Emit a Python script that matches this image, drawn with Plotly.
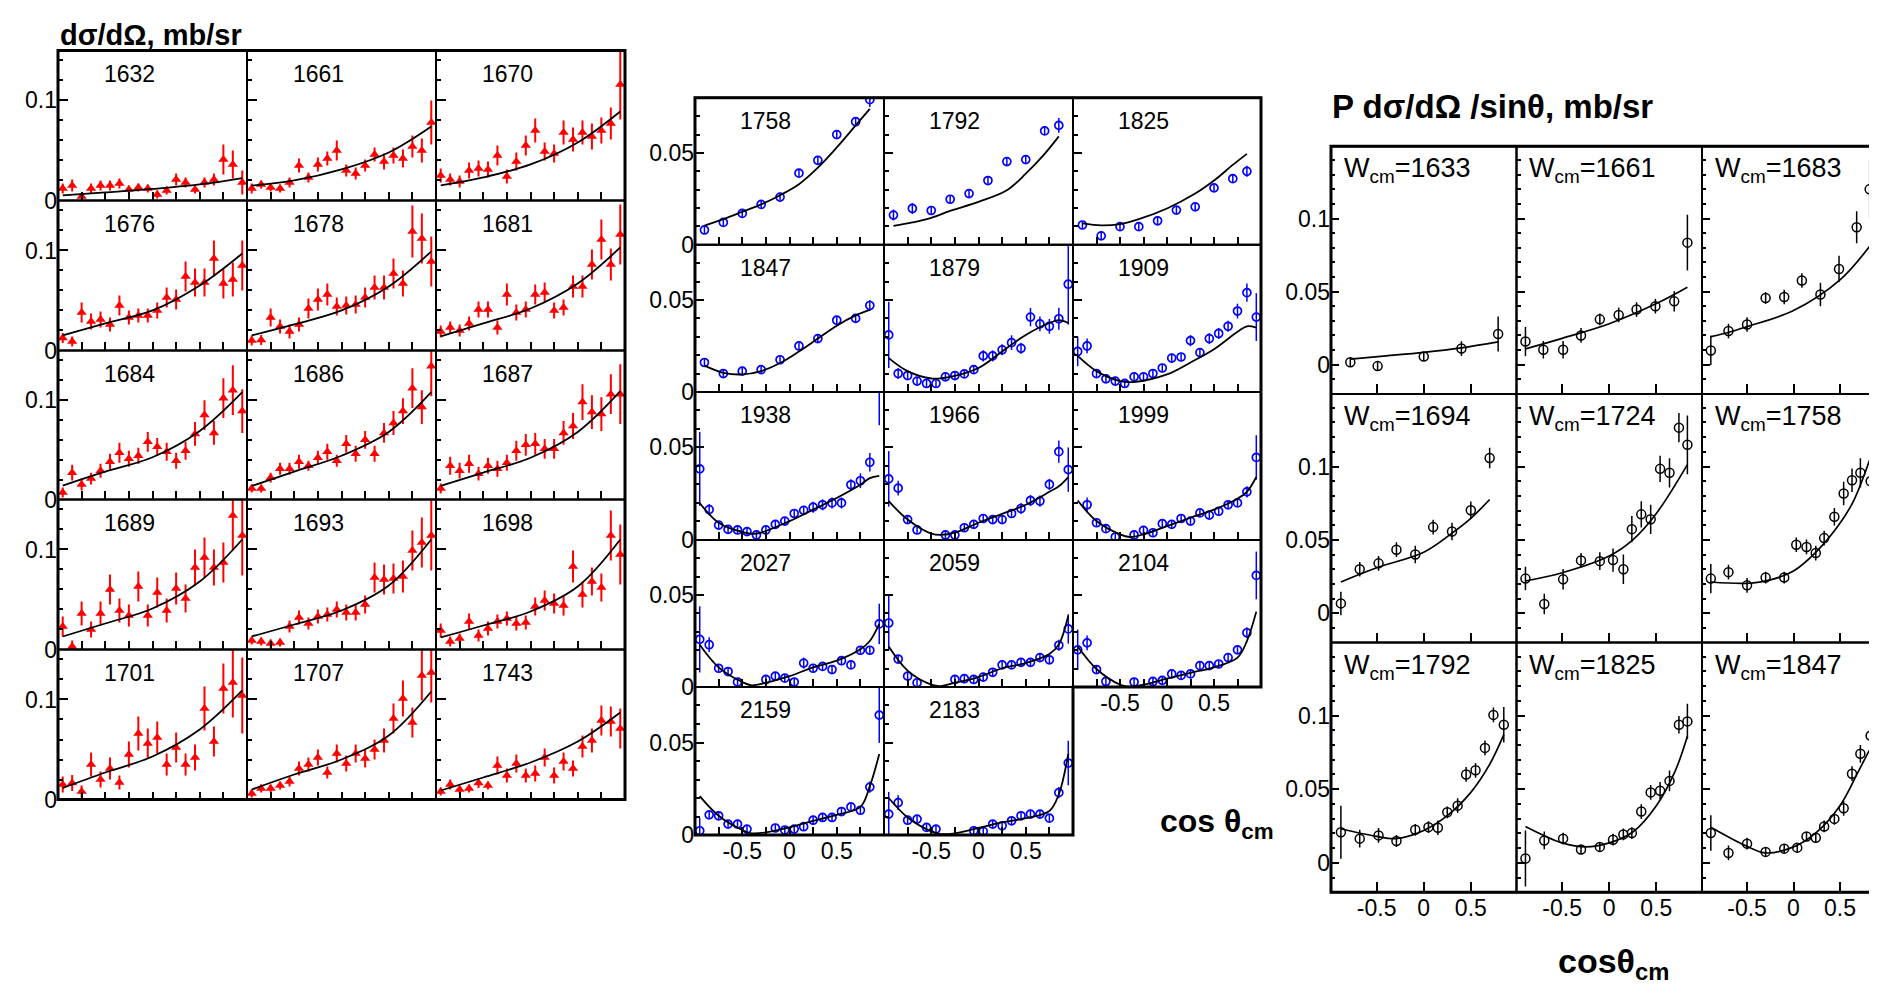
import plotly.graph_objects as go

W, H = 1877, 993
FONT = "Liberation Sans, Arial, sans-serif"

# ---------------- left group: dsigma/dOmega (red triangles) ----------------
X_L = [-0.95, -0.85, -0.75, -0.65, -0.55, -0.45, -0.35, -0.25, -0.15, -0.05,
       0.05, 0.15, 0.25, 0.35, 0.45, 0.55, 0.65, 0.75, 0.85, 0.95]
CX_L = [-0.95, -0.5, 0.0, 0.5, 0.95]

L1632_Y = [0.012, 0.015, 0.004, 0.012, 0.015, 0.015, 0.017, 0.011, 0.013, 0.012, 0.006, 0.010, 0.021, 0.018, 0.011, 0.018, 0.021, 0.041, 0.036, 0.018]
L1632_E = [0.005, 0.006, 0.003, 0.005, 0.005, 0.005, 0.005, 0.004, 0.004, 0.004, 0.004, 0.004, 0.006, 0.005, 0.004, 0.005, 0.006, 0.015, 0.014, 0.012]
L1632_C = [0.005, 0.008, 0.0115, 0.016, 0.0224]

L1661_Y = [0.012, 0.016, 0.013, 0.012, 0.018, 0.035, 0.023, 0.036, 0.042, 0.050, 0.030, 0.027, 0.035, 0.046, 0.039, 0.045, 0.042, 0.054, 0.050, 0.078]
L1661_E = [0.005, 0.004, 0.004, 0.004, 0.005, 0.007, 0.005, 0.007, 0.007, 0.010, 0.006, 0.006, 0.006, 0.007, 0.008, 0.008, 0.009, 0.011, 0.012, 0.022]
L1661_C = [0.0149, 0.020, 0.031, 0.048, 0.074]

L1670_Y = [0.025, 0.021, 0.019, 0.030, 0.032, 0.031, 0.045, 0.024, 0.039, 0.055, 0.070, 0.049, 0.047, 0.068, 0.061, 0.068, 0.064, 0.070, 0.077, 0.116]
L1670_E = [0.007, 0.006, 0.006, 0.008, 0.008, 0.008, 0.010, 0.007, 0.009, 0.010, 0.012, 0.009, 0.009, 0.012, 0.012, 0.012, 0.013, 0.013, 0.016, 0.035]
L1670_C = [0.015, 0.023, 0.036, 0.058, 0.089]

L1676_Y = [0.0125, 0.009, 0.038, 0.029, 0.031, 0.026, 0.045, 0.033, 0.035, 0.035, 0.040, 0.053, 0.051, 0.074, 0.068, 0.068, 0.092, 0.067, 0.071, 0.085]
L1676_E = [0.005, 0.005, 0.010, 0.008, 0.008, 0.007, 0.010, 0.007, 0.007, 0.007, 0.008, 0.010, 0.010, 0.015, 0.014, 0.014, 0.018, 0.015, 0.017, 0.025]
L1676_C = [0.015, 0.027, 0.040, 0.065, 0.097]

L1678_Y = [0.010, 0.0105, 0.033, 0.024, 0.019, 0.026, 0.042, 0.051, 0.056, 0.044, 0.045, 0.046, 0.053, 0.063, 0.063, 0.077, 0.067, 0.119, 0.112, 0.089]
L1678_E = [0.005, 0.005, 0.009, 0.007, 0.007, 0.007, 0.010, 0.011, 0.011, 0.009, 0.009, 0.009, 0.010, 0.012, 0.012, 0.015, 0.013, 0.026, 0.025, 0.025]
L1678_C = [0.015, 0.026, 0.040, 0.064, 0.099]

L1681_Y = [0.019, 0.023, 0.020, 0.027, 0.041, 0.041, 0.023, 0.056, 0.038, 0.041, 0.056, 0.058, 0.040, 0.043, 0.064, 0.064, 0.086, 0.111, 0.086, 0.116]
L1681_E = [0.006, 0.006, 0.006, 0.007, 0.008, 0.008, 0.007, 0.011, 0.008, 0.008, 0.010, 0.010, 0.008, 0.008, 0.011, 0.011, 0.015, 0.020, 0.016, 0.030]
L1681_C = [0.014, 0.027, 0.042, 0.067, 0.103]

L1684_Y = [0.007, 0.027, 0.015, 0.021, 0.029, 0.038, 0.047, 0.041, 0.044, 0.058, 0.053, 0.048, 0.039, 0.049, 0.066, 0.085, 0.067, 0.102, 0.110, 0.089]
L1684_E = [0.005, 0.008, 0.006, 0.006, 0.007, 0.008, 0.010, 0.008, 0.008, 0.010, 0.009, 0.009, 0.008, 0.009, 0.012, 0.015, 0.012, 0.020, 0.025, 0.022]
L1684_C = [0.014, 0.028, 0.0425, 0.069, 0.108]

L1686_Y = [0.011, 0.011, 0.022, 0.031, 0.031, 0.038, 0.034, 0.042, 0.048, 0.039, 0.056, 0.046, 0.060, 0.046, 0.067, 0.077, 0.089, 0.112, 0.093, 0.134]
L1686_E = [0.004, 0.004, 0.005, 0.006, 0.006, 0.007, 0.005, 0.007, 0.008, 0.006, 0.009, 0.008, 0.009, 0.008, 0.010, 0.012, 0.013, 0.020, 0.017, 0.030]
L1686_C = [0.0136, 0.028, 0.044, 0.068, 0.108]

L1687_Y = [0.011, 0.034, 0.029, 0.036, 0.026, 0.034, 0.031, 0.037, 0.049, 0.055, 0.056, 0.051, 0.051, 0.067, 0.074, 0.098, 0.088, 0.086, 0.106, 0.106]
L1687_E = [0.005, 0.009, 0.008, 0.009, 0.007, 0.008, 0.008, 0.008, 0.010, 0.011, 0.011, 0.010, 0.010, 0.012, 0.013, 0.018, 0.017, 0.017, 0.020, 0.030]
L1687_C = [0.0136, 0.027, 0.042, 0.068, 0.109]

L1689_Y = [0.023, 0.003, 0.036, 0.020, 0.036, 0.060, 0.039, 0.034, 0.063, 0.034, 0.057, 0.039, 0.061, 0.051, 0.082, 0.092, 0.082, 0.087, 0.134, 0.114]
L1689_E = [0.010, 0.006, 0.012, 0.008, 0.012, 0.015, 0.012, 0.011, 0.015, 0.011, 0.015, 0.012, 0.016, 0.014, 0.018, 0.020, 0.018, 0.020, 0.035, 0.040]
L1689_C = [0.013, 0.026, 0.041, 0.068, 0.110]

L1693_Y = [0.009, 0.008, 0.006, 0.007, 0.023, 0.032, 0.026, 0.033, 0.035, 0.040, 0.037, 0.037, 0.045, 0.072, 0.070, 0.071, 0.073, 0.099, 0.107, 0.114]
L1693_E = [0.004, 0.004, 0.004, 0.004, 0.006, 0.007, 0.006, 0.007, 0.007, 0.008, 0.008, 0.008, 0.009, 0.015, 0.015, 0.015, 0.016, 0.020, 0.025, 0.035]
L1693_C = [0.013, 0.025, 0.039, 0.064, 0.110]

L1698_Y = [0.019, 0.008, 0.011, 0.028, 0.014, 0.021, 0.028, 0.031, 0.026, 0.027, 0.043, 0.049, 0.046, 0.044, 0.083, 0.055, 0.068, 0.062, 0.114, 0.095]
L1698_E = [0.007, 0.005, 0.005, 0.008, 0.006, 0.007, 0.007, 0.007, 0.007, 0.007, 0.009, 0.010, 0.010, 0.010, 0.016, 0.013, 0.014, 0.014, 0.025, 0.030]
L1698_C = [0.012, 0.024, 0.038, 0.063, 0.110]

L1701_Y = [0.015, 0.0165, 0.008, 0.035, 0.020, 0.031, 0.017, 0.045, 0.066, 0.056, 0.062, 0.035, 0.052, 0.035, 0.042, 0.091, 0.058, 0.111, 0.117, 0.104]
L1701_E = [0.008, 0.008, 0.006, 0.012, 0.008, 0.011, 0.007, 0.013, 0.017, 0.015, 0.016, 0.011, 0.015, 0.011, 0.013, 0.022, 0.015, 0.025, 0.035, 0.038]
L1701_C = [0.0115, 0.027, 0.043, 0.070, 0.109]

L1707_Y = [0.006, 0.011, 0.011, 0.014, 0.018, 0.031, 0.035, 0.042, 0.027, 0.046, 0.036, 0.046, 0.041, 0.050, 0.059, 0.081, 0.101, 0.077, 0.124, 0.127]
L1707_E = [0.004, 0.004, 0.004, 0.004, 0.005, 0.007, 0.007, 0.008, 0.006, 0.009, 0.008, 0.009, 0.009, 0.010, 0.012, 0.015, 0.018, 0.015, 0.025, 0.030]
L1707_C = [0.010, 0.025, 0.040, 0.064, 0.108]

L1743_Y = [0.008, 0.015, 0.010, 0.011, 0.0165, 0.014, 0.034, 0.024, 0.036, 0.024, 0.026, 0.042, 0.024, 0.038, 0.031, 0.053, 0.059, 0.079, 0.078, 0.071]
L1743_E = [0.004, 0.005, 0.004, 0.004, 0.005, 0.004, 0.009, 0.007, 0.009, 0.007, 0.008, 0.009, 0.008, 0.009, 0.008, 0.011, 0.012, 0.015, 0.015, 0.020]
L1743_C = [0.009, 0.022, 0.037, 0.058, 0.087]

LEFT = [("1632", L1632_Y, L1632_E, L1632_C), ("1661", L1661_Y, L1661_E, L1661_C), ("1670", L1670_Y, L1670_E, L1670_C),
        ("1676", L1676_Y, L1676_E, L1676_C), ("1678", L1678_Y, L1678_E, L1678_C), ("1681", L1681_Y, L1681_E, L1681_C),
        ("1684", L1684_Y, L1684_E, L1684_C), ("1686", L1686_Y, L1686_E, L1686_C), ("1687", L1687_Y, L1687_E, L1687_C),
        ("1689", L1689_Y, L1689_E, L1689_C), ("1693", L1693_Y, L1693_E, L1693_C), ("1698", L1698_Y, L1698_E, L1698_C),
        ("1701", L1701_Y, L1701_E, L1701_C), ("1707", L1707_Y, L1707_E, L1707_C), ("1743", L1743_Y, L1743_E, L1743_C)]

# ---------------- middle group (blue open circles) ----------------
X_M10 = [-0.9, -0.7, -0.5, -0.3, -0.1, 0.1, 0.3, 0.5, 0.7, 0.85]
X_M20 = X_L
CX_M9 = [-0.9, -0.7, -0.5, -0.3, 0.0, 0.3, 0.5, 0.7, 0.85]
CX_MA = [-0.95, -0.75, -0.5, -0.3, 0.0, 0.25, 0.5, 0.75, 0.85, 0.95]
CX_MB = [-0.95, -0.75, -0.5, -0.35, 0.0, 0.25, 0.5, 0.75, 0.85, 0.95]
CX_MC = [-0.95, -0.75, -0.5, -0.4, -0.25, 0.0, 0.25, 0.5, 0.75, 0.85, 0.95]

M1758_Y = [0.0081, 0.0122, 0.0171, 0.022, 0.026, 0.039, 0.046, 0.060, 0.067, 0.079]
M1758_E = [0.002, 0.002, 0.002, 0.002, 0.002, 0.002, 0.002, 0.002, 0.002, 0.004]
M1758_C = [0.0105, 0.014, 0.018, 0.022, 0.027, 0.033, 0.042, 0.053, 0.065, 0.074]

M1792_Y = [0.0162, 0.0198, 0.0187, 0.0248, 0.0279, 0.035, 0.0453, 0.0464, 0.062, 0.065]
M1792_E = [0.003, 0.003, 0.002, 0.002, 0.002, 0.002, 0.002, 0.002, 0.002, 0.004]
M1792_C = [0.0103, 0.0122, 0.0147, 0.0185, 0.0234, 0.0297, 0.0387, 0.0495, 0.059]

M1825_Y = [0.0108, 0.0049, 0.0099, 0.0099, 0.0131, 0.0189, 0.0207, 0.031, 0.036, 0.040]
M1825_E = [0.002, 0.002, 0.002, 0.002, 0.002, 0.002, 0.002, 0.002, 0.002, 0.003]
M1825_C = [0.0117, 0.0106, 0.0113, 0.014, 0.0198, 0.0279, 0.035, 0.0435, 0.0495]

M1847_Y = [0.016, 0.010, 0.0113, 0.0121, 0.0175, 0.025, 0.029, 0.039, 0.040, 0.047]
M1847_E = [0.002, 0.002, 0.002, 0.002, 0.002, 0.002, 0.002, 0.002, 0.002, 0.003]
M1847_C = [0.0143, 0.0104, 0.0095, 0.0113, 0.0157, 0.022, 0.029, 0.036, 0.0416, 0.0446]

M1879_Y = [0.031, 0.010, 0.0089, 0.0059, 0.0046, 0.0046, 0.0082, 0.0089, 0.0098, 0.0121, 0.0196, 0.0196, 0.0229, 0.0268, 0.0237, 0.0407, 0.037, 0.0357, 0.0398, 0.0586]
M1879_E = [0.018, 0.003, 0.002, 0.002, 0.002, 0.002, 0.002, 0.002, 0.002, 0.002, 0.003, 0.003, 0.003, 0.004, 0.003, 0.005, 0.004, 0.004, 0.006, 0.022]
M1879_C = [0.0184, 0.0113, 0.0073, 0.0082, 0.013, 0.022, 0.031, 0.0375, 0.039, 0.0375]

M1909_Y = [0.022, 0.025, 0.010, 0.0071, 0.0059, 0.0046, 0.0082, 0.0082, 0.010, 0.013, 0.0184, 0.019, 0.0279, 0.0214, 0.029, 0.0318, 0.0357, 0.044, 0.054, 0.0407]
M1909_E = [0.008, 0.004, 0.002, 0.002, 0.002, 0.002, 0.002, 0.002, 0.002, 0.002, 0.002, 0.002, 0.003, 0.002, 0.003, 0.003, 0.003, 0.004, 0.005, 0.013]
M1909_C = [0.0196, 0.0113, 0.0059, 0.0054, 0.0095, 0.016, 0.0232, 0.0327, 0.0357, 0.035]

M1938_Y = [0.0384, 0.0164, 0.008, 0.0057, 0.0054, 0.0045, 0.0027, 0.0054, 0.0084, 0.0102, 0.0143, 0.016, 0.0177, 0.019, 0.020, 0.020, 0.0298, 0.032, 0.042, 0.090]
M1938_E = [0.020, 0.003, 0.002, 0.002, 0.002, 0.002, 0.002, 0.002, 0.002, 0.002, 0.002, 0.002, 0.003, 0.003, 0.003, 0.003, 0.003, 0.004, 0.005, 0.028]
M1938_C = [0.020, 0.0093, 0.0043, 0.0034, 0.0102, 0.0164, 0.0227, 0.0298, 0.0334, 0.0346]

M1966_Y = [0.033, 0.028, 0.011, 0.0054, None, None, 0.0027, 0.0027, 0.0066, 0.0084, 0.0116, 0.011, 0.011, 0.0143, 0.017, 0.0213, 0.021, 0.030, 0.0477, 0.038]
M1966_E = [0.015, 0.004, 0.002, 0.002, 0.0, 0.0, 0.002, 0.002, 0.002, 0.002, 0.002, 0.002, 0.002, 0.002, 0.003, 0.003, 0.003, 0.003, 0.006, 0.012]
M1966_C = [0.021, 0.011, 0.0034, 0.0027, 0.0039, 0.0093, 0.0141, 0.019, 0.026, 0.029, 0.034]

M1999_Y = [None, 0.019, 0.0093, 0.0061, 0.0016, None, 0.0027, 0.0052, 0.0039, 0.0088, 0.0084, 0.0116, 0.0102, 0.0146, 0.0134, 0.0155, 0.019, 0.020, 0.026, 0.0446]
M1999_E = [0.0, 0.004, 0.002, 0.002, 0.002, 0.0, 0.002, 0.002, 0.002, 0.002, 0.002, 0.002, 0.002, 0.002, 0.002, 0.002, 0.002, 0.002, 0.003, 0.012]
M1999_C = [0.0213, 0.0102, 0.003, 0.0016, 0.003, 0.0075, 0.012, 0.0164, 0.0223, 0.026, 0.034]

M2027_Y = [0.0259, 0.023, 0.0102, 0.0084, 0.0027, None, None, 0.0041, 0.0059, 0.0048, 0.0027, 0.013, 0.0102, 0.0112, 0.0095, 0.0143, 0.012, 0.020, 0.020, 0.0343]
M2027_E = [0.018, 0.004, 0.002, 0.002, 0.002, 0.0, 0.0, 0.002, 0.002, 0.002, 0.002, 0.003, 0.002, 0.002, 0.002, 0.002, 0.002, 0.002, 0.002, 0.011]
M2027_C = [0.023, 0.0107, 0.0027, 0.0009, 0.0023, 0.0059, 0.0107, 0.0143, 0.0205, 0.025, 0.0343]

M2059_Y = [0.0348, 0.0152, 0.0059, 0.0023, None, None, None, 0.0041, 0.0045, 0.0041, 0.0054, 0.008, 0.012, 0.012, 0.0134, 0.0134, 0.016, 0.0148, 0.0227, 0.0316]
M2059_E = [0.015, 0.002, 0.002, 0.002, 0.0, 0.0, 0.0, 0.002, 0.002, 0.002, 0.002, 0.002, 0.002, 0.002, 0.002, 0.002, 0.002, 0.002, 0.003, 0.008]
M2059_C = [0.022, 0.0089, 0.0013, 0.0005, 0.0023, 0.0054, 0.0102, 0.013, 0.0179, 0.0232, 0.0388]

M2104_Y = [0.0202, 0.024, 0.0095, 0.003, None, None, 0.0027, None, 0.003, 0.0036, 0.0071, 0.0063, 0.0071, 0.0116, 0.0116, 0.0125, 0.016, 0.0202, 0.0295, 0.0607]
M2104_E = [0.011, 0.004, 0.002, 0.002, 0.0, 0.0, 0.002, 0.0, 0.002, 0.002, 0.002, 0.002, 0.002, 0.002, 0.002, 0.002, 0.002, 0.002, 0.003, 0.013]
M2104_C = [0.022, 0.0098, 0.0013, 0.0002, 0.0013, 0.0045, 0.0077, 0.0107, 0.016, 0.025, 0.041]

M2159_Y = [0.0023, 0.0109, 0.0104, 0.0059, 0.0059, 0.0032, None, None, 0.0038, 0.0027, 0.0032, 0.0045, 0.008, 0.0095, 0.0095, 0.0127, 0.0152, 0.0134, 0.0259, 0.0648]
M2159_E = [0.007, 0.002, 0.002, 0.002, 0.002, 0.002, 0.0, 0.0, 0.002, 0.002, 0.002, 0.002, 0.002, 0.002, 0.002, 0.002, 0.002, 0.002, 0.003, 0.015]
M2159_C = [0.021, 0.0104, 0.0027, 0.0009, 0.0014, 0.0041, 0.0077, 0.0109, 0.0152, 0.0264, 0.0438]

M2183_Y = [0.0113, 0.0175, 0.008, 0.0086, 0.0041, 0.0032, None, None, None, 0.0023, 0.002, 0.0059, 0.005, 0.0077, 0.0104, 0.0113, 0.0113, 0.0091, 0.0229, 0.0389]
M2183_E = [0.012, 0.004, 0.002, 0.002, 0.002, 0.002, 0.0, 0.0, 0.0, 0.002, 0.002, 0.002, 0.002, 0.002, 0.002, 0.002, 0.002, 0.002, 0.003, 0.012]
M2183_C = [0.020, 0.0095, 0.002, 0.0005, 0.0009, 0.0038, 0.0068, 0.0091, 0.013, 0.022, 0.0438]

MIDDLE = [("1758", X_M10, M1758_Y, M1758_E, X_M10, M1758_C), ("1792", X_M10, M1792_Y, M1792_E, CX_M9, M1792_C),
          ("1825", X_M10, M1825_Y, M1825_E, CX_M9, M1825_C), ("1847", X_M10, M1847_Y, M1847_E, X_M10, M1847_C),
          ("1879", X_M20, M1879_Y, M1879_E, CX_MA, M1879_C), ("1909", X_M20, M1909_Y, M1909_E, CX_MB, M1909_C),
          ("1938", X_M20, M1938_Y, M1938_E, CX_MB, M1938_C), ("1966", X_M20, M1966_Y, M1966_E, CX_MC, M1966_C),
          ("1999", X_M20, M1999_Y, M1999_E, CX_MC, M1999_C), ("2027", X_M20, M2027_Y, M2027_E, CX_MC, M2027_C),
          ("2059", X_M20, M2059_Y, M2059_E, CX_MC, M2059_C), ("2104", X_M20, M2104_Y, M2104_E, CX_MC, M2104_C),
          ("2159", X_M20, M2159_Y, M2159_E, CX_MC, M2159_C), ("2183", X_M20, M2183_Y, M2183_E, CX_MC, M2183_C)]

# ---------------- right group: P dsigma/dOmega / sin(theta) ----------------
P1633_X = [-0.78, -0.49, 0.0, 0.40, 0.79]
P1633_Y = [0.0016, -0.001, 0.0056, 0.011, 0.021]
P1633_E = [0.003, 0.003, 0.003, 0.005, 0.012]
P1633_CX = [-0.78, -0.4, 0.0, 0.4, 0.79]
P1633_CY = [0.0038, 0.006, 0.0084, 0.0115, 0.0156]

P1661_X = [-0.89, -0.70, -0.49, -0.30, -0.10, 0.10, 0.29, 0.49, 0.69, 0.83]
P1661_Y = [0.0158, 0.0102, 0.0102, 0.020, 0.031, 0.034, 0.0377, 0.040, 0.0433, 0.0835]
P1661_E = [0.010, 0.006, 0.006, 0.005, 0.004, 0.005, 0.005, 0.005, 0.007, 0.019]
P1661_CX = [-0.89, -0.5, 0.0, 0.5, 0.83]
P1661_CY = [0.0108, 0.018, 0.028, 0.0418, 0.053]

P1683_X = [-0.89, -0.70, -0.50, -0.30, -0.10, 0.09, 0.29, 0.49, 0.68, 0.82]
P1683_Y = [0.0097, 0.023, 0.0275, 0.0456, 0.0463, 0.0576, 0.048, 0.0655, 0.094, 0.120]
P1683_E = [0.010, 0.005, 0.005, 0.004, 0.005, 0.005, 0.008, 0.009, 0.011, 0.020]
P1683_CX = [-0.89, -0.7, -0.5, 0.0, 0.5, 0.82]
P1683_CY = [0.0192, 0.022, 0.026, 0.037, 0.058, 0.081]

P1694_X = [-0.88, -0.68, -0.48, -0.29, -0.09, 0.10, 0.30, 0.50, 0.70]
P1694_Y = [0.0067, 0.030, 0.034, 0.0433, 0.040, 0.0587, 0.0557, 0.0702, 0.1058]
P1694_E = [0.008, 0.005, 0.005, 0.005, 0.006, 0.005, 0.006, 0.006, 0.007]
P1694_CX = [-0.88, -0.5, 0.0, 0.3, 0.5, 0.7]
P1694_CY = [0.0213, 0.031, 0.0416, 0.0546, 0.0647, 0.0775]

P1724_X = [-0.89, -0.69, -0.49, -0.30, -0.10, 0.04, 0.15, 0.24, 0.34, 0.44, 0.54, 0.64, 0.74, 0.83]
P1724_Y = [0.0236, 0.0063, 0.0231, 0.036, 0.0355, 0.0362, 0.030, 0.0573, 0.0674, 0.064, 0.0984, 0.0957, 0.1265, 0.1148]
P1724_E = [0.008, 0.007, 0.007, 0.005, 0.006, 0.008, 0.010, 0.009, 0.009, 0.010, 0.009, 0.010, 0.010, 0.020]
P1724_CX = [-0.89, -0.5, 0.0, 0.25, 0.5, 0.83]
P1724_CY = [0.022, 0.0276, 0.039, 0.050, 0.068, 0.1013]

P1758_X = [-0.89, -0.70, -0.50, -0.30, -0.10, 0.03, 0.14, 0.24, 0.33, 0.44, 0.54, 0.63, 0.72, 0.83]
P1758_Y = [0.0236, 0.028, 0.019, 0.0243, 0.0243, 0.0467, 0.0452, 0.041, 0.0512, 0.0658, 0.0816, 0.0906, 0.0957, 0.090]
P1758_E = [0.010, 0.005, 0.005, 0.004, 0.004, 0.005, 0.005, 0.005, 0.005, 0.006, 0.008, 0.008, 0.010, 0.012]
P1758_CX = [-0.89, -0.5, -0.25, 0.0, 0.25, 0.5, 0.65, 0.83]
P1758_CY = [0.0213, 0.0204, 0.0227, 0.0288, 0.0422, 0.0613, 0.077, 0.1063]

P1792_X = [-0.88, -0.68, -0.48, -0.29, -0.09, 0.05, 0.15, 0.25, 0.36, 0.45, 0.55, 0.65, 0.74, 0.85]
P1792_Y = [0.0208, 0.0164, 0.0186, 0.0148, 0.0224, 0.0242, 0.0238, 0.0343, 0.0388, 0.060, 0.0628, 0.078, 0.1004, 0.0937]
P1792_E = [0.018, 0.006, 0.005, 0.004, 0.004, 0.004, 0.005, 0.004, 0.005, 0.005, 0.005, 0.005, 0.005, 0.012]
P1792_CX = [-0.88, -0.5, -0.3, 0.0, 0.25, 0.5, 0.7, 0.85]
P1792_CY = [0.0231, 0.0179, 0.0164, 0.022, 0.032, 0.0478, 0.0668, 0.087]

P1825_X = [-0.89, -0.69, -0.49, -0.30, -0.10, 0.04, 0.15, 0.24, 0.34, 0.44, 0.54, 0.64, 0.74, 0.83]
P1825_Y = [0.0029, 0.0152, 0.0164, 0.009, 0.0108, 0.0157, 0.0193, 0.0202, 0.0348, 0.0478, 0.0489, 0.0556, 0.0937, 0.096]
P1825_E = [0.019, 0.006, 0.004, 0.003, 0.003, 0.004, 0.004, 0.004, 0.005, 0.005, 0.006, 0.007, 0.006, 0.012]
P1825_CX = [-0.89, -0.5, -0.25, 0.0, 0.25, 0.5, 0.7, 0.83]
P1825_CY = [0.0247, 0.0135, 0.0108, 0.0135, 0.0209, 0.0388, 0.0623, 0.0859]

P1847_X = [-0.89, -0.70, -0.50, -0.30, -0.10, 0.04, 0.14, 0.24, 0.33, 0.44, 0.54, 0.63, 0.72, 0.83]
P1847_Y = [0.0202, 0.0067, 0.013, 0.0074, 0.0096, 0.0103, 0.0179, 0.017, 0.0247, 0.0298, 0.037, 0.0605, 0.074, 0.0863]
P1847_E = [0.012, 0.005, 0.004, 0.003, 0.003, 0.003, 0.003, 0.003, 0.004, 0.004, 0.005, 0.005, 0.006, 0.008]
P1847_CX = [-0.89, -0.5, -0.3, 0.0, 0.25, 0.5, 0.7, 0.83]
P1847_CY = [0.0242, 0.0112, 0.0067, 0.0108, 0.0209, 0.0388, 0.0623, 0.078]

RIGHT = [("1633", P1633_X, P1633_Y, P1633_E, P1633_CX, P1633_CY), ("1661", P1661_X, P1661_Y, P1661_E, P1661_CX, P1661_CY),
         ("1683", P1683_X, P1683_Y, P1683_E, P1683_CX, P1683_CY), ("1694", P1694_X, P1694_Y, P1694_E, P1694_CX, P1694_CY),
         ("1724", P1724_X, P1724_Y, P1724_E, P1724_CX, P1724_CY), ("1758", P1758_X, P1758_Y, P1758_E, P1758_CX, P1758_CY),
         ("1792", P1792_X, P1792_Y, P1792_E, P1792_CX, P1792_CY), ("1825", P1825_X, P1825_Y, P1825_E, P1825_CX, P1825_CY),
         ("1847", P1847_X, P1847_Y, P1847_E, P1847_CX, P1847_CY)]

# tick positions / labels
XT_MAJOR = [-0.5, 0.0, 0.5]
XT_MAJOR_TXT = ["-0.5", "0", "0.5"]
XT_MINOR = [-0.75, -0.25, 0.25, 0.75]

# ---------------- geometry (pixels) ----------------
L_COLS = [50, 239, 428, 617]
L_ROWS = [43, 195, 347, 498, 650, 802]
M_COLS = [687, 876, 1065, 1253]
M_ROWS = [91, 240, 389, 539, 688, 838]
R_COLS = [1323, 1508.5, 1694, 1877]
R_ROWS = [140, 391, 643, 896]


def px(x):
    return x / W


def py(y):
    return 1 - y / H


fig = go.Figure()
lay = dict(width=W, height=H, margin=dict(l=0, r=0, t=0, b=0), paper_bgcolor="white",
           plot_bgcolor="white", showlegend=False)
ann = []
shp = []
counter = [0]


def new_axes(c0, c1, r0, r1, xr, yr, xminor, xlen, ydt, ylen, ymin, ymlen, show_x, show_y, fs):
    counter[0] += 1
    k = counter[0]
    xa = "xaxis" if k == 1 else "xaxis%d" % k
    ya = "yaxis" if k == 1 else "yaxis%d" % k
    xref = "x" if k == 1 else "x%d" % k
    yref = "y" if k == 1 else "y%d" % k
    tf = dict(family=FONT, size=fs, color="black")
    xd = dict(domain=[px(c0), px(c1)], range=xr, anchor=yref, showgrid=False, zeroline=False,
              showline=False, ticks="inside", ticklen=xlen, tickwidth=1.5, tickcolor="black",
              tickmode="array", tickvals=XT_MAJOR, ticktext=XT_MAJOR_TXT, showticklabels=show_x,
              tickfont=tf, fixedrange=True)
    if xminor:
        xd["minor"] = dict(tickmode="array", tickvals=XT_MINOR, ticks="inside", ticklen=xlen,
                           tickwidth=1.5, tickcolor="black")
    lay[xa] = xd
    lay[ya] = dict(domain=[py(r1), py(r0)], range=yr, anchor=xref, showgrid=False, zeroline=False,
                   showline=False, ticks="inside", ticklen=ylen, tickwidth=1.5, tickcolor="black",
                   tickmode="linear", tick0=0, dtick=ydt, showticklabels=show_y, tickfont=tf,
                   minor=dict(tick0=0, dtick=ymin, ticks="inside", ticklen=ymlen, tickwidth=1.5,
                              tickcolor="black"),
                   fixedrange=True)
    shp.append(dict(type="rect", xref="paper", yref="paper", x0=px(c0), x1=px(c1), y0=py(r1), y1=py(r0),
                    line=dict(color="black", width=2), layer="above"))
    return xref, yref


# left panels
for i, (lab, yv, ev, cv) in enumerate(LEFT):
    r, c = divmod(i, 3)
    xref, yref = new_axes(L_COLS[c], L_COLS[c + 1], L_ROWS[r], L_ROWS[r + 1], [-1, 1], [0, 0.15],
                          True, 8, 0.1, 10, 0.02, 5, False, c == 0, 23)
    fig.add_trace(go.Scatter(x=X_L, y=yv, mode="markers", xaxis=xref, yaxis=yref,
                             marker=dict(symbol="triangle-up", size=9, color="red"),
                             error_y=dict(type="data", array=ev, color="red", thickness=2, width=0)))
    fig.add_trace(go.Scatter(x=CX_L, y=cv, mode="lines", xaxis=xref, yaxis=yref,
                             line=dict(color="black", width=1.8, shape="spline", smoothing=1.0)))
    ann.append(dict(x=-0.24, y=0.126, xref=xref, yref=yref, text=lab, showarrow=False,
                    xanchor="center", yanchor="middle", font=dict(family=FONT, size=23, color="black")))

# middle panels
for i, (lab, xv, yv, ev, cx, cy) in enumerate(MIDDLE):
    r, c = divmod(i, 3)
    show_x = (r == 4) or (r == 3 and c == 2)
    xref, yref = new_axes(M_COLS[c], M_COLS[c + 1], M_ROWS[r], M_ROWS[r + 1], [-1, 1], [0, 0.08],
                          True, 8, 0.05, 9, 0.01, 5, show_x, c == 0, 23)
    fig.add_trace(go.Scatter(x=xv, y=yv, mode="markers", xaxis=xref, yaxis=yref,
                             marker=dict(symbol="circle-open", size=8, color="blue", line=dict(width=1.7, color="blue")),
                             error_y=dict(type="data", array=ev, color="blue", thickness=1.5, width=0)))
    fig.add_trace(go.Scatter(x=cx, y=cy, mode="lines", xaxis=xref, yaxis=yref,
                             line=dict(color="black", width=1.8, shape="spline", smoothing=1.0)))
    ann.append(dict(x=-0.25, y=0.0675, xref=xref, yref=yref, text=lab, showarrow=False,
                    xanchor="center", yanchor="middle", font=dict(family=FONT, size=23, color="black")))

# right panels
for i, (lab, xv, yv, ev, cx, cy) in enumerate(RIGHT):
    r, c = divmod(i, 3)
    xref, yref = new_axes(R_COLS[c], R_COLS[c + 1], R_ROWS[r], R_ROWS[r + 1], [-0.985, 0.985], [-0.02, 0.1495],
                          False, 10, 0.05, 8, 0.01, 4, r == 2, c == 0, 23)
    fig.add_trace(go.Scatter(x=xv, y=yv, mode="markers", xaxis=xref, yaxis=yref,
                             marker=dict(symbol="circle-open", size=9, color="black", line=dict(width=1.5, color="black")),
                             error_y=dict(type="data", array=ev, color="black", thickness=1.5, width=0)))
    fig.add_trace(go.Scatter(x=cx, y=cy, mode="lines", xaxis=xref, yaxis=yref,
                             line=dict(color="black", width=1.7, shape="spline", smoothing=1.0)))
    ann.append(dict(x=-0.87, y=0.146, xref=xref, yref=yref, text="W<sub>cm</sub>=" + lab, showarrow=False,
                    xanchor="left", yanchor="top", font=dict(family=FONT, size=27, color="black")))

# outer frames
shp.append(dict(type="rect", xref="paper", yref="paper", x0=px(L_COLS[0]), x1=px(L_COLS[-1]),
                y0=py(L_ROWS[-1]), y1=py(L_ROWS[0]), line=dict(color="black", width=3), layer="above"))
mpath = "M %f %f L %f %f L %f %f L %f %f L %f %f L %f %f Z" % (
    px(687), py(91), px(1253), py(91), px(1253), py(688), px(1065), py(688), px(1065), py(838), px(687), py(838))
shp.append(dict(type="path", xref="paper", yref="paper", path=mpath, line=dict(color="black", width=3), layer="above"))
shp.append(dict(type="rect", xref="paper", yref="paper", x0=px(R_COLS[0]), x1=px(R_COLS[-1]),
                y0=py(R_ROWS[-1]), y1=py(R_ROWS[0]), line=dict(color="black", width=3), layer="above"))

# titles
ann.append(dict(x=px(50), y=py(27), xref="paper", yref="paper", showarrow=False, xanchor="left", yanchor="middle",
                text="dσ/dΩ, mb/sr", font=dict(family=FONT, size=29, color="black", weight="bold")))
ann.append(dict(x=px(1322), y=py(100), xref="paper", yref="paper", showarrow=False, xanchor="left", yanchor="middle",
                text="P dσ/dΩ /sinθ, mb/sr", font=dict(family=FONT, size=33, color="black", weight="bold")))
ann.append(dict(x=px(1150), y=py(826), xref="paper", yref="paper", showarrow=False, xanchor="left", yanchor="middle",
                text="cos θ<sub>cm</sub>", font=dict(family=FONT, size=32, color="black", weight="bold")))
ann.append(dict(x=px(1548), y=py(968), xref="paper", yref="paper", showarrow=False, xanchor="left", yanchor="middle",
                text="cosθ<sub>cm</sub>", font=dict(family=FONT, size=34, color="black", weight="bold")))

lay["annotations"] = ann
lay["shapes"] = shp
fig.update_layout(**lay)
fig.write_html("out.html")
